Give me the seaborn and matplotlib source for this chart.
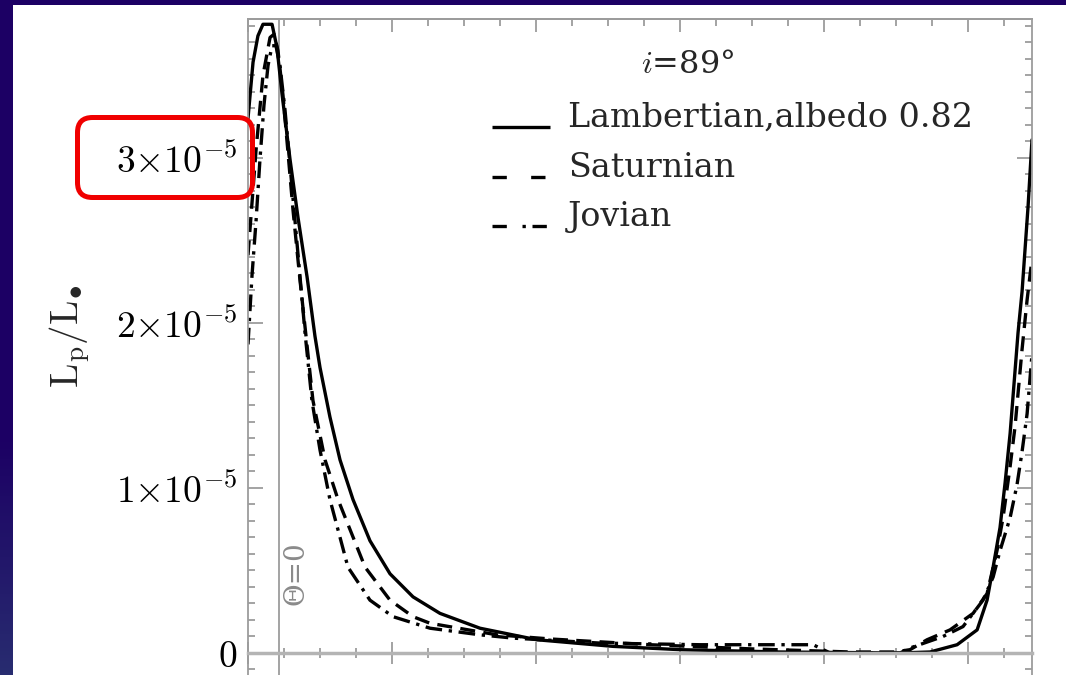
import numpy as np
import pandas as pd
import matplotlib
matplotlib.use("Agg")
import matplotlib.pyplot as plt
import seaborn as sns
from matplotlib.patches import FancyBboxPatch, Rectangle
from matplotlib.ticker import MultipleLocator, NullFormatter
from matplotlib.transforms import IdentityTransform

# ---- data (x in axis units, flux in 1e-5) ----
lamb_x = [0.000, 0.035, 0.069, 0.104, 0.167, 0.201, 0.236, 0.292, 0.347, 0.410,
          0.465, 0.500, 0.569, 0.639, 0.729, 0.847, 0.986, 1.146, 1.333, 1.611,
          2.007, 2.535, 3.000, 3.694, 4.528, 4.736, 4.924, 5.063, 5.132, 5.174,
          5.222, 5.257, 5.292, 5.347, 5.375, 5.417, 5.444]
lamb_y = [3.24, 3.58, 3.74, 3.81, 3.81, 3.67, 3.39, 2.99, 2.64, 2.28,
          1.92, 1.73, 1.43, 1.17, 0.93, 0.68, 0.48, 0.34, 0.24, 0.15,
          0.08, 0.04, 0.02, 0.006, 0.0, 0.006, 0.05, 0.14, 0.32, 0.52,
          0.76, 1.03, 1.33, 1.94, 2.19, 2.71, 3.11]

sat_x = [0.000, 0.056, 0.104, 0.153, 0.181, 0.208, 0.243, 0.313, 0.361, 0.451,
         0.535, 0.625, 0.813, 0.986, 1.146, 1.264, 1.729, 2.097, 2.792, 3.486,
         4.181, 4.493, 4.597, 4.715, 4.875, 5.035, 5.132, 5.201, 5.243, 5.292,
         5.326, 5.375, 5.410, 5.444]
sat_y = [2.41, 3.05, 3.50, 3.73, 3.75, 3.65, 3.38, 2.68, 2.26, 1.53,
         1.17, 0.93, 0.52, 0.32, 0.22, 0.18, 0.11, 0.085, 0.05, 0.025,
         0.006, 0.006, 0.02, 0.08, 0.14, 0.24, 0.36, 0.62, 0.82, 1.13,
         1.37, 1.84, 2.14, 2.39]

jov_x = [0.000, 0.028, 0.056, 0.083, 0.111, 0.139, 0.167, 0.194, 0.222, 0.257,
         0.313, 0.396, 0.444, 0.500, 0.569, 0.694, 0.847, 1.007, 1.264, 1.611,
         1.840, 2.444, 3.139, 3.924, 4.042, 4.528, 4.597, 4.826, 4.965, 5.104,
         5.174, 5.222, 5.292, 5.340, 5.375, 5.410, 5.444]
jov_y = [1.87, 2.29, 2.62, 2.99, 3.32, 3.56, 3.68, 3.68, 3.56, 3.29,
         2.75, 1.94, 1.53, 1.23, 0.93, 0.52, 0.32, 0.22, 0.15, 0.11,
         0.09, 0.06, 0.05, 0.05, 0.0, 0.0, 0.03, 0.10, 0.16, 0.32,
         0.46, 0.62, 0.82, 1.02, 1.22, 1.45, 1.81]

models = ["Lambertian,albedo 0.82", "Saturnian", "Jovian"]
yticks = [0, 1e-5, 2e-5, 3e-5]
ytick_labels = [r"$0$", r"$1{\times}10^{-5}$", r"$2{\times}10^{-5}$", r"$3{\times}10^{-5}$"]
THETA0 = 0.215

W, H = 1066, 675
GREY = "#9c9c9c"

sns.set_theme(style="white")
plt.rcParams["font.family"] = ["DejaVu Serif"]
plt.rcParams["mathtext.fontset"] = "cm"

df = pd.concat([
    pd.DataFrame({"x": lamb_x, "flux": np.array(lamb_y) * 1e-5, "model": models[0]}),
    pd.DataFrame({"x": sat_x, "flux": np.array(sat_y) * 1e-5, "model": models[1]}),
    pd.DataFrame({"x": jov_x, "flux": np.array(jov_y) * 1e-5, "model": models[2]}),
], ignore_index=True)

fig = plt.figure(figsize=(W / 100, H / 100), dpi=100)
fig.patch.set_facecolor("#1c0064")

# slide background: navy with a lighter bottom, white panel on top
bg = fig.add_axes([0, 0, 1, 1], zorder=-20)
bg.axis("off")
t = np.linspace(0, 1, 200)[:, None]
top_c = np.array([28, 0, 100]) / 255
bot_c = np.array([40, 44, 112]) / 255
w = np.clip((t - 0.65) / 0.35, 0, 1)[..., None]
img = top_c * (1 - w) + bot_c * w
bg.imshow(np.repeat(img, 2, axis=1), aspect="auto", extent=[0, 1, 0, 1])
bg.set_xlim(0, 1)
bg.set_ylim(0, 1)
fig.add_artist(Rectangle((13 / W, 0), 1 - 13 / W, 1 - 5 / H, transform=fig.transFigure,
                         facecolor="white", edgecolor="none", zorder=-5))

ax = fig.add_axes([248 / W, 1 - 700 / H, (1032 - 248) / W, (700 - 19) / H])
ax.set_facecolor("white")

sns.lineplot(data=df, x="x", y="flux", style="model", style_order=models,
             dashes={models[0]: "", models[1]: (4.5, 2.5), models[2]: (5, 2, 1, 2)},
             color="black", linewidth=2.4, estimator=None, sort=False,
             legend=False, ax=ax)

ax.set_xlim(0, 5.444)
ax.set_ylim(-0.285e-5, 3.842e-5)

for side in ["left", "right", "top"]:
    ax.spines[side].set_color(GREY)
    ax.spines[side].set_linewidth(1.3)
ax.spines["bottom"].set_position(("data", 0))
ax.spines["bottom"].set_color("#b4b4b4")
ax.spines["bottom"].set_linewidth(2.5)

ax.axvline(THETA0, color=GREY, lw=1.3, zorder=0)
ax.text(0.333, 0.485e-5, "Θ=0", rotation=90, ha="center", va="center",
        color="#8a8a8a", fontsize=20)

# ticks
ax.xaxis.set_major_locator(MultipleLocator(1))
ax.xaxis.set_minor_locator(MultipleLocator(0.25))
ax.tick_params(axis="x", which="both", bottom=True, top=False, direction="inout",
               labelbottom=False, color=GREY, width=1.3)
ax.tick_params(axis="x", which="major", length=16)
ax.tick_params(axis="x", which="minor", length=7)

ax.set_yticks(yticks, labels=ytick_labels)
ax.yaxis.set_minor_locator(MultipleLocator(1e-6))
ax.tick_params(axis="y", which="both", left=True, right=True, direction="in",
               color=GREY, width=1.3, labelsize=27, labelcolor="black", pad=8)
ax.tick_params(axis="y", which="major", length=11)
ax.tick_params(axis="y", which="minor", length=5)

top = ax.secondary_xaxis("top")
top.xaxis.set_major_locator(MultipleLocator(1))
top.xaxis.set_minor_locator(MultipleLocator(0.25))
top.xaxis.set_major_formatter(NullFormatter())
top.tick_params(axis="x", which="both", direction="in", color=GREY, width=1.3)
top.tick_params(axis="x", which="major", length=9)
top.tick_params(axis="x", which="minor", length=5)
top.spines["top"].set_color(GREY)
top.spines["top"].set_linewidth(1.3)

ax.set_xlabel("")
ax.set_ylabel(r"$\mathrm{L_p/L_{\bullet}}$", fontsize=28)
ax.yaxis.set_label_coords((92 - 248) / 784, (700 - 336) / 681)


# hand-drawn legend in the style of the original
def axc(px, py):
    return (px - 248) / 784, (700 - py) / 681


ax.text(*axc(688, 65), r"$i$=89°", transform=ax.transAxes, ha="center", va="center",
        fontsize=23)
handle_dashes = [None, (4.3, 7.3), (4.3, 4.7, 1, 2)]
baselines = [127, 177, 226]
for label, dash, base in zip(models, handle_dashes, baselines):
    x0, y0 = axc(492, base)
    x1, _ = axc(550, base)
    ln, = ax.plot([x0, x1], [y0, y0], transform=ax.transAxes, color="black", lw=2.4,
                  solid_capstyle="butt", dash_capstyle="butt")
    if dash is not None:
        ln.set_dashes(dash)
    ax.text(*axc(568, base), label, transform=ax.transAxes, ha="left", va="baseline",
            fontsize=24)

# red highlight around the 3x10^-5 tick label
box = FancyBboxPatch((77.5, H - 197.5), 175, 80,
                     boxstyle="round,pad=0,rounding_size=15",
                     transform=IdentityTransform(), facecolor="none",
                     edgecolor="#f00000", linewidth=3.6, zorder=10)
fig.add_artist(box)

fig.savefig("out.png", dpi=100)
